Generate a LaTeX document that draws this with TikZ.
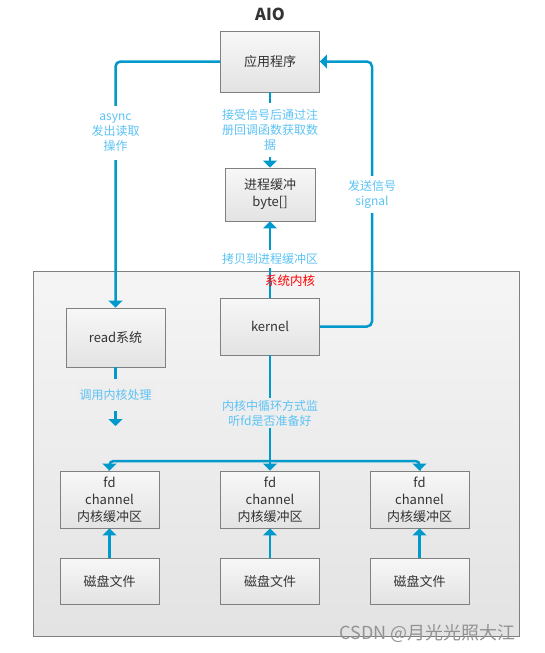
\documentclass[tikz,border=0pt]{standalone}
\usepackage{fontspec}
\setmainfont{Noto Sans CJK SC}
\usetikzlibrary{arrows.meta}
\definecolor{lineblue}{HTML}{0099CC}
\definecolor{noteblue}{HTML}{5CC3F5}
\definecolor{boxtext}{HTML}{333333}

\begin{document}
\begin{tikzpicture}[x=1pt,y=-1pt,>={Triangle[width=14pt,length=7pt]},
  box/.style={draw=gray,line width=0.9pt,top color=gray!6,bottom color=gray!22,
    text=boxtext,align=center,inner sep=1pt,font=\fontsize{13}{17}\selectfont},
  link/.style={draw=lineblue,line width=2.5pt},
  note/.style={text=noteblue,align=center,inner sep=2pt,font=\fontsize{12}{15}\selectfont}]
  \useasboundingbox (0,0) rectangle (545,653);
  % kernel area
  \node[draw=gray,line width=0.9pt,top color=gray!8,bottom color=gray!22,
    minimum width=486pt,minimum height=365pt,inner sep=0pt] (sys) at (276,453.5) {};
  \node[font=\bfseries\fontsize{16.5}{18}\selectfont,text=boxtext] (title) at (270,14) {AIO};
  % boxes
  \node[box,minimum width=99pt,minimum height=61pt] (app) at (270,61.5) {应用程序};
  \node[box,minimum width=90pt,minimum height=53pt] (buf) at (270,194.5) {进程缓冲\\byte[]};
  \node[box,minimum width=99pt,minimum height=59pt] (read) at (115.5,337.5) {read系统};
  \node[box,minimum width=99pt,minimum height=57pt] (kernel) at (270,326.5) {kernel};
  \node[box,minimum width=99pt,minimum height=57pt] (fd1) at (109.5,499.5) {fd\\channel\\内核缓冲区};
  \node[box,minimum width=99pt,minimum height=57pt] (fd2) at (270,499.5) {fd\\channel\\内核缓冲区};
  \node[box,minimum width=99pt,minimum height=57pt] (fd3) at (419.5,499.5) {fd\\channel\\内核缓冲区};
  \node[box,minimum width=99pt,minimum height=46pt] (disk1) at (109.5,581) {磁盘文件};
  \node[box,minimum width=99pt,minimum height=46pt] (disk2) at (270,581) {磁盘文件};
  \node[box,minimum width=99pt,minimum height=46pt] (disk3) at (419.5,581) {磁盘文件};
  \coordinate (sigtop) at (372,61.5);
  \coordinate (readend) at (115.5,426);
  \coordinate (split) at (270,461);
  % connectors
  \draw[link,->,rounded corners=5pt] (app.west) -| (read.north);
  \draw[link,->] (app.south) -- (buf.north);
  \draw[link,->] (kernel.north) -- (buf.south);
  \draw[link,->,rounded corners=5pt] (kernel.east) -| (sigtop) -- (app.east);
  \draw[link,->] (read.south) -- (readend);
  \draw[link] (kernel.south) -- (split);
  \draw[link,->,rounded corners=4pt] (split) -| (fd1.north);
  \draw[link,->] (split) -- (fd2.north);
  \draw[link,->,rounded corners=4pt] (split) -| (fd3.north);
  \draw[link,->] (disk1.north) -- (fd1.south);
  \draw[link,->] (disk2.north) -- (fd2.south);
  \draw[link,->] (disk3.north) -- (fd3.south);
  % labels
  \node[note,fill=white,minimum height=54pt] (async) at (115.5,133) {async\\发出读取\\操作};
  \node[note,fill=white,minimum height=54pt] (callback) at (270,130) {接受信号后通过注\\册回调函数获取数\\据};
  \node[note,fill=white,minimum height=37pt] (signal) at (372,194) {发送信号\\signal};
  \node[note,fill=white,minimum height=18pt] (copy) at (270,259) {拷贝到进程缓冲区};
  \node[note,fill=gray!13,minimum height=32pt] (call) at (115.5,395) {调用内核处理};
  \node[note,fill=gray!13] (poll) at (270,413) {内核中循环方式监\\听fd是否准备好};
  \node[text=red,font=\fontsize{12.5}{14}\selectfont] (syslabel) at (290,281) {系统内核};
  \node[anchor=west,text=gray!85,font=\fontsize{18}{20}\selectfont] (mark) at (336,633) {CSDN @月光光照大江};
\end{tikzpicture}
\end{document}
